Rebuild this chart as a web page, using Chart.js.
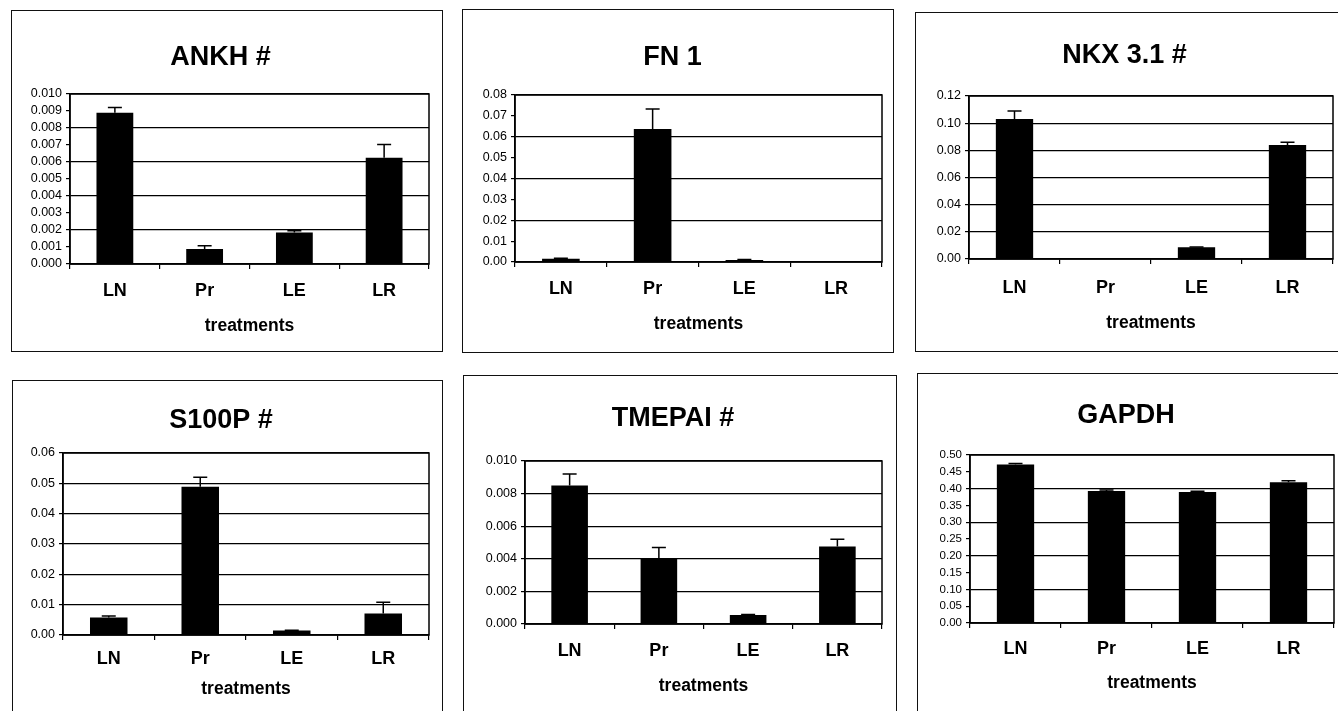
<!DOCTYPE html>
<html>
<head>
<meta charset="utf-8">
<script src="https://cdn.jsdelivr.net/npm/chart.js@4.4.1/dist/chart.umd.min.js"></script>
<style>
  body { margin: 0; background: #fff; width: 1338px; height: 711px; overflow: hidden; position: relative; }
  .panel { position: absolute; border: 1px solid #111; background: #fff; }
  .panel canvas { display: block; }
</style>
</head>
<body>
<div id="panels"></div>
<script>
const categories = ['LN', 'Pr', 'LE', 'LR'];
const xTitle = 'treatments';

const ankhMean = [0.0089, 0.00088, 0.00185, 0.00625];
const ankhErr = [0.0003, 0.0002, 0.0001, 0.00078];
const fn1Mean = [0.0015, 0.0637, 0.001, 0.0002];
const fn1Err = [0.0003, 0.0096, 0.0002, 0];
const nkxMean = [0.103, 0.0003, 0.0086, 0.084];
const nkxErr = [0.006, 0, 0.0003, 0.002];
const s100pMean = [0.0058, 0.0489, 0.0015, 0.0071];
const s100pErr = [0.0005, 0.0031, 0.0001, 0.0037];
const tmepaiMean = [0.0085, 0.0040, 0.00055, 0.00475];
const tmepaiErr = [0.0007, 0.0007, 0.00003, 0.00045];
const gapdhMean = [0.472, 0.393, 0.390, 0.419];
const gapdhErr = [0.003, 0.003, 0.002, 0.004];

// y axis: max, step, decimals, gridline every n ticks
const ankhAxis = [0.010, 0.001, 3, 2];
const fn1Axis = [0.08, 0.01, 2, 2];
const nkxAxis = [0.12, 0.02, 2, 1];
const s100pAxis = [0.06, 0.01, 2, 1];
const tmepaiAxis = [0.010, 0.002, 3, 1];
const gapdhAxis = [0.50, 0.05, 2, 2];

const FONT = "'Liberation Sans', Arial, sans-serif";

// box x, y, w, h; plot left, top, right, bottom (inside box); title y, category y, x-title y; y tick font size
const panels = [
    { title: 'ANKH #', mean: ankhMean, err: ankhErr, axis: ankhAxis, box: [11, 10, 432, 342], plot: [58, 83, 417, 253], ty: 47, cy: 280, xy: 315, tf: 12.5 },
    { title: 'FN 1', mean: fn1Mean, err: fn1Err, axis: fn1Axis, box: [462, 9, 432, 344], plot: [52, 85, 419, 252], ty: 48, cy: 279, xy: 314, tf: 12.5 },
    { title: 'NKX 3.1 #', mean: nkxMean, err: nkxErr, axis: nkxAxis, box: [915, 12, 432, 340], plot: [53, 83, 417, 246], ty: 43, cy: 275, xy: 310, tf: 12.5 },
    { title: 'S100P #', mean: s100pMean, err: s100pErr, axis: s100pAxis, box: [12, 380, 431, 345], plot: [50, 72, 416, 254], ty: 40, cy: 278, xy: 308, tf: 12.5 },
    { title: 'TMEPAI #', mean: tmepaiMean, err: tmepaiErr, axis: tmepaiAxis, box: [463, 375, 434, 350], plot: [61, 85, 418, 248], ty: 43, cy: 275, xy: 310, tf: 12.5 },
    { title: 'GAPDH', mean: gapdhMean, err: gapdhErr, axis: gapdhAxis, box: [917, 373, 432, 350], plot: [52, 81, 416, 249], ty: 42, cy: 275, xy: 309, tf: 11.5 }
];

const frame = {
    id: 'frame',
    afterDraw(chart) {
        const a = chart.chartArea, ctx = chart.ctx;
        ctx.save();
        ctx.strokeStyle = '#000';
        ctx.lineWidth = 1.5;
        ctx.strokeRect(a.left, a.top, a.right - a.left, a.bottom - a.top);
        ctx.restore();
    }
};

const errorBars = {
    id: 'errorBars',
    afterDatasetsDraw(chart) {
        const ctx = chart.ctx;
        const yScale = chart.scales.y;
        const errs = chart.options.plugins.errorBars.values;
        const means = chart.data.datasets[0].data;
        chart.getDatasetMeta(0).data.forEach((bar, i) => {
            if (!errs[i]) return;
            const yTop = yScale.getPixelForValue(means[i] + errs[i]);
            ctx.save();
            ctx.strokeStyle = '#000';
            ctx.lineWidth = 1.5;
            ctx.beginPath();
            ctx.moveTo(bar.x, bar.y);
            ctx.lineTo(bar.x, yTop);
            ctx.moveTo(bar.x - 7, yTop);
            ctx.lineTo(bar.x + 7, yTop);
            ctx.stroke();
            ctx.restore();
        });
    }
};

function makePanel(p) {
    const [bx, by, bw, bh] = p.box;
    const [pl, pt, pr, pb] = p.plot;
    const [yMax, yStep, dec, every] = p.axis;
    const w = bw - 2, h = bh - 2;

    const div = document.createElement('div');
    div.className = 'panel';
    div.style.left = bx + 'px';
    div.style.top = by + 'px';
    div.style.width = w + 'px';
    div.style.height = h + 'px';
    const canvas = document.createElement('canvas');
    canvas.width = w;
    canvas.height = h;
    div.appendChild(canvas);
    document.getElementById('panels').appendChild(div);

    const titleSize = 27, titleLh = titleSize * 1.2;
    const titlePadTop = p.ty - titleLh / 2;
    const titlePadBottom = pt - titlePadTop - titleLh;
    const catSize = 18, tickLen = 5;
    const catPad = p.cy - pb - tickLen - catSize * 1.2 / 2;
    const xtSize = 17.5;
    const xtPadBottom = h - p.xy - xtSize * 1.2 / 2;

    new Chart(canvas.getContext('2d'), {
        type: 'bar',
        data: {
            labels: categories,
            datasets: [{
                data: p.mean,
                backgroundColor: '#000',
                borderWidth: 0,
                barPercentage: 1,
                categoryPercentage: 0.41
            }]
        },
        options: {
            responsive: false,
            animation: false,
            layout: { padding: { left: 0, top: 0, right: w - pr, bottom: 0 } },
            plugins: {
                legend: { display: false },
                tooltip: { enabled: false },
                title: {
                    display: true,
                    text: p.title,
                    color: '#000',
                    font: { family: FONT, size: titleSize, weight: 'bold' },
                    padding: { top: titlePadTop, bottom: titlePadBottom }
                },
                errorBars: { values: p.err }
            },
            scales: {
                x: {
                    offset: true,
                    grid: { drawOnChartArea: false, drawTicks: true, tickLength: tickLen, color: '#000', lineWidth: 1.2 },
                    border: { color: '#000', width: 1.5 },
                    ticks: { color: '#000', padding: catPad, font: { family: FONT, size: catSize, weight: 'bold' } },
                    title: {
                        display: true,
                        text: xTitle,
                        color: '#000',
                        font: { family: FONT, size: xtSize, weight: 'bold' },
                        padding: { top: 0, bottom: xtPadBottom }
                    },
                    afterFit(scale) { scale.height = h - pb; }
                },
                y: {
                    min: 0,
                    max: yMax,
                    grid: {
                        color: c => (c.index % every === 0 ? '#000' : 'rgba(0,0,0,0)'),
                        tickColor: '#000',
                        lineWidth: 1.2,
                        tickLength: 4
                    },
                    border: { color: '#000', width: 1.5 },
                    ticks: {
                        stepSize: yStep,
                        autoSkip: false,
                        padding: 4,
                        color: '#000',
                        font: { family: FONT, size: p.tf },
                        callback: v => Number(v).toFixed(dec)
                    },
                    afterFit(scale) { scale.width = pl; }
                }
            }
        },
        plugins: [errorBars, frame]
    });
}

panels.forEach(makePanel);
</script>
</body>
</html>
